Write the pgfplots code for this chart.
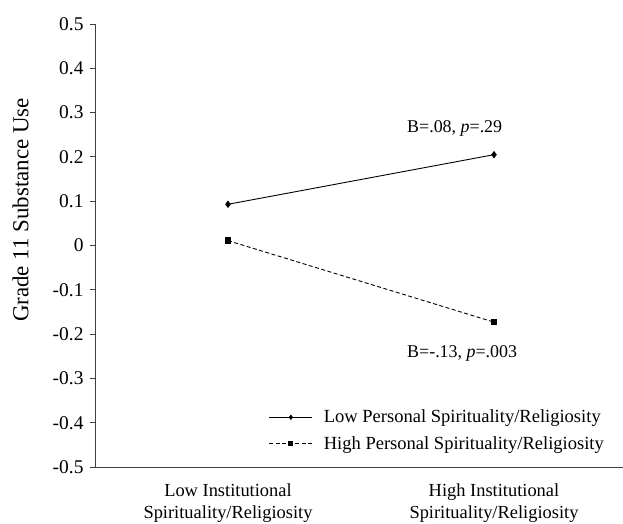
\documentclass[border=0pt]{standalone}
\usepackage{pgfplots}
\pgfplotsset{compat=1.18}
\usepackage{fontspec}
\setmainfont{Liberation Serif}
\begin{document}
\begin{tikzpicture}
\path[use as bounding box] (0,0) rectangle (623bp,524bp);
\begin{axis}[
  at={(95bp,57bp)}, anchor=south west,
  scale only axis, width=528bp, height=443bp,
  xmin=-0.5, xmax=1.485, ymin=-0.5, ymax=0.5,
  axis lines*=left,
  axis line style={line width=0.9pt, black!75},
  xtick={0,1},
  xticklabels={Low Institutional\\Spirituality/Religiosity, High Institutional\\Spirituality/Religiosity},
  xticklabel style={align=center, font=\fontsize{18.5}{22}\selectfont, yshift=-8bp},
  major x tick style={draw=none},
  extra x ticks={-0.5,0.5},
  extra x tick labels={},
  extra x tick style={major tick length=6bp, tick align=outside, tick style={line width=0.9pt, black!75}},
  ytick={-0.5,-0.4,-0.3,-0.2,-0.1,0,0.1,0.2,0.3,0.4,0.5},
  yticklabels={-0.5,-0.4,-0.3,-0.2,-0.1,0,0.1,0.2,0.3,0.4,0.5},
  yticklabel style={font=\fontsize{19.5}{22}\selectfont, xshift=-3bp},
  y tick style={line width=0.9pt, black!75},
  tick align=outside, major tick length=5bp,
  ylabel={Grade 11 Substance Use},
  ylabel style={font=\fontsize{23}{26}\selectfont, at={(rel axis cs:0,0.58)}, anchor=south, yshift=63bp},
  clip=false,
  legend style={draw=none, fill=none, at={(rel axis cs:1,0)}, anchor=south east,
    xshift=-14bp, yshift=12bp, font=\fontsize{18.6}{21}\selectfont, row sep=8bp,
    legend cell align=left},
  legend image code/.code={\draw[#1, mark size=2bp, mark indices={2}] plot coordinates {(0bp,0bp) (21.5bp,0bp) (43bp,0bp)}; \path (52bp,0bp);},
]
\addplot[black, line width=0.9pt, mark=diamond*, mark size=3bp]
  coordinates {(0,0.093) (1,0.205)};
\addlegendentry{Low Personal Spirituality/Religiosity}
\addplot[black, line width=0.9pt, dash pattern=on 4bp off 2.5bp, mark=square*, mark size=2.8bp, mark options={solid}]
  coordinates {(0,0.011) (1,-0.173)};
\addlegendentry{High Personal Spirituality/Religiosity}
\node[anchor=west, font=\fontsize{18}{21}\selectfont, inner sep=0pt] at (axis cs:0.673,0.265) {B=.08, \textit{p}=.29};
\node[anchor=west, font=\fontsize{18}{21}\selectfont, inner sep=0pt] at (axis cs:0.673,-0.243) {B=-.13, \textit{p}=.003};
\end{axis}
\end{tikzpicture}
\end{document}
